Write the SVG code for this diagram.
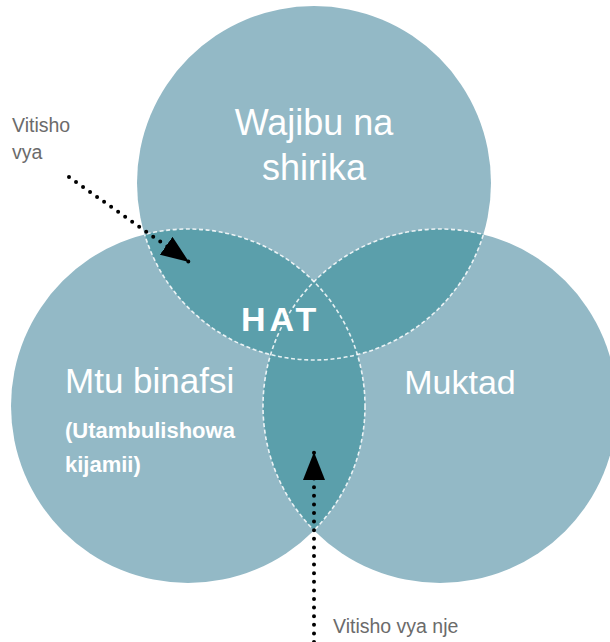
<svg xmlns="http://www.w3.org/2000/svg" width="610" height="642" viewBox="0 0 610 642">
<style>
.light{fill:#93b9c6}
.dark{fill:#5b9fab}
.seam{fill:none;stroke:#ffffff;stroke-opacity:0.85;stroke-width:1.6;stroke-dasharray:4 2.6}
.lbl{font-family:"Liberation Sans",Arial,sans-serif;fill:#ffffff}
.note{font-family:"Liberation Sans",Arial,sans-serif;fill:#6b6b6b;font-size:19.5px}
.dots{fill:none;stroke:#000000;stroke-width:4;stroke-linecap:round;stroke-dasharray:0 8.6}
</style>
<defs>
<circle id="cTop" cx="314" cy="183" r="177"/>
<circle id="cLeft" cx="188" cy="406" r="177"/>
<circle id="cRight" cx="440" cy="406" r="177"/>
<clipPath id="clipLR"><use href="#cLeft"/><use href="#cRight"/></clipPath>
<clipPath id="clipTR"><use href="#cTop"/><use href="#cRight"/></clipPath>
<clipPath id="clipTL"><use href="#cTop"/><use href="#cLeft"/></clipPath>
<clipPath id="clipR"><use href="#cRight"/></clipPath>
<marker id="head" viewBox="0 0 28 22" refX="28" refY="11" markerWidth="28" markerHeight="22" markerUnits="userSpaceOnUse" orient="auto">
<path d="M0,0 L28,11 L0,22 z" fill="#000000"/>
</marker>
</defs>

<g id="node-wajibu">
<use href="#cTop" class="light"/>
<text class="lbl" x="314" y="135" font-size="36" text-anchor="middle">Wajibu na</text>
<text class="lbl" x="314" y="180" font-size="36" text-anchor="middle">shirika</text>
</g>
<g id="node-mtu">
<use href="#cLeft" class="light"/>
<text class="lbl" x="65" y="393" font-size="35">Mtu binafsi</text>
<text class="lbl" x="65" y="438" font-size="22" font-weight="bold">(Utambulishowa</text>
<text class="lbl" x="65" y="472" font-size="22" font-weight="bold">kijamii)</text>
</g>
<g id="node-muktad">
<use href="#cRight" class="light"/>
<text class="lbl" x="460" y="394" font-size="34" text-anchor="middle">Muktad</text>
</g>

<g id="overlaps">
<use href="#cTop" class="dark" clip-path="url(#clipLR)"/>
<use href="#cLeft" class="dark" clip-path="url(#clipR)"/>
<use href="#cTop" class="seam" clip-path="url(#clipLR)"/>
<use href="#cLeft" class="seam" clip-path="url(#clipTR)"/>
<use href="#cRight" class="seam" clip-path="url(#clipTL)"/>
</g>

<g id="node-hat">
<text class="lbl" x="241" y="331" font-size="34" font-weight="bold" letter-spacing="4">HAT</text>
</g>

<g id="connectors">
<path class="dots" d="M69,177 L189,262" marker-end="url(#head)"/>
<path class="dots" d="M314,642 L314,452" marker-end="url(#head)"/>
</g>

<g id="label-vitisho-vya">
<text class="note" x="12" y="132">Vitisho</text>
<text class="note" x="12" y="159">vya</text>
</g>
<g id="label-vitisho-nje">
<text class="note" x="333" y="633">Vitisho vya nje</text>
</g>
</svg>
